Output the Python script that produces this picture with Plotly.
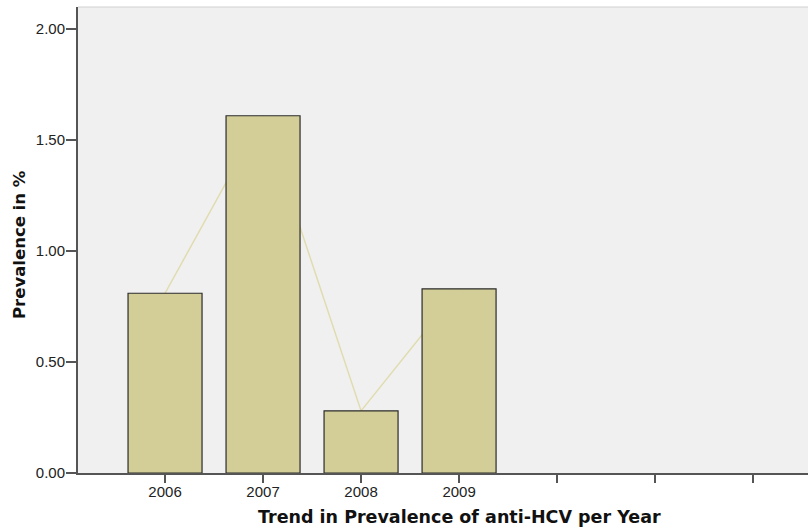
import plotly.graph_objects as go

years = ["2006", "2007", "2008", "2009", "", "", ""]
positions = [0, 1, 2, 3, 4, 5, 6]
bar_x = [0, 1, 2, 3]
prevalence = [0.81, 1.61, 0.28, 0.83]
y_ticks = [0, 0.5, 1.0, 1.5, 2.0]
y_labels = ["0.00", "0.50", "1.00", "1.50", "2.00"]

xr = [-0.888, 6.56]
yr = [0, 2.1]

fig = go.Figure()
fig.add_trace(go.Scatter(
    x=bar_x, y=prevalence, mode="lines",
    line=dict(color="#e0dcb0", width=1.5),
    xaxis="x", yaxis="y", showlegend=False, hoverinfo="skip"))
fig.add_trace(go.Bar(
    x=bar_x, y=prevalence, width=0.755,
    marker=dict(color="#d3ce98", line=dict(color="#2b2b2b", width=1.2)),
    xaxis="x2", yaxis="y2", showlegend=False))

font_tick = dict(family="Liberation Sans, Arial, sans-serif", size=15, color="#222222")
fig.update_layout(
    width=808, height=527,
    margin=dict(l=78, r=0, t=7, b=54),
    paper_bgcolor="white",
    plot_bgcolor="#f0f0f0",
    xaxis=dict(range=xr, tickmode="array", tickvals=positions, ticktext=years,
               ticks="outside", ticklen=8, tickwidth=2, tickcolor="#555555",
               showline=True, linecolor="#555555", linewidth=2, automargin=False,
               showgrid=False, zeroline=False, tickfont=font_tick, ticklabelstandoff=-4),
    yaxis=dict(range=yr, tickmode="array", tickvals=y_ticks, ticktext=y_labels,
               ticks="outside", ticklen=10, tickwidth=2, tickcolor="#555555",
               showline=True, linecolor="#555555", linewidth=2, automargin=False,
               showgrid=False, zeroline=False, tickfont=font_tick, ticklabelstandoff=-2),
    xaxis2=dict(range=xr, overlaying="x", visible=False),
    yaxis2=dict(range=yr, overlaying="y", visible=False),
    shapes=[dict(type="line", xref="paper", yref="paper", x0=0, x1=1, y0=1, y1=1,
                 line=dict(color="#d0d0d0", width=1))],
    annotations=[
        dict(text="<b>Trend in Prevalence of anti-HCV per Year</b>", xref="paper", yref="paper",
             x=(460 - 78) / 730, y=-(517 - 473) / 466, xanchor="center", yanchor="middle",
             showarrow=False,
             font=dict(family="DejaVu Sans, Verdana, sans-serif", size=17.5, color="#111111")),
        dict(text="<b>Prevalence in %</b>", xref="paper", yref="paper",
             x=-(78 - 20) / 730, y=(473 - 244) / 466, xanchor="center", yanchor="middle",
             textangle=-90, showarrow=False,
             font=dict(family="DejaVu Sans, Verdana, sans-serif", size=16.5, color="#111111")),
    ],
)

fig.write_html("out.html", config={"displayModeBar": False},
               post_script="document.body.style.margin='0';")
